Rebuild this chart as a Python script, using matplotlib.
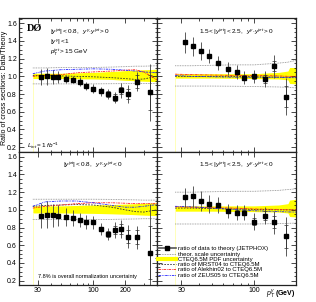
import numpy as np
import matplotlib
matplotlib.use('Agg')
import matplotlib.pyplot as plt
from matplotlib.lines import Line2D
from matplotlib.ticker import FixedLocator, NullFormatter, MultipleLocator

plt.rcParams['font.family'] = ['Liberation Sans', 'DejaVu Sans']
plt.rcParams['mathtext.fontset'] = 'custom'
plt.rcParams['mathtext.rm'] = 'Liberation Sans'
plt.rcParams['mathtext.it'] = 'Liberation Sans:italic'

# pT bin centres (GeV)
pt_central = [32, 36.5, 41.5, 47, 55, 65, 75, 85, 99, 119, 139, 159, 184, 214, 260, 340]
pt_forward = [32, 36.5, 41.5, 47, 55, 65, 75, 85, 99, 119, 139, 170]

# data / theory ratios and errors (total, stat)
tl_ratio = [0.99, 1.0, 0.99, 0.99, 0.97, 0.96, 0.94, 0.89, 0.86, 0.83, 0.80, 0.76, 0.84, 0.80, 0.94, 0.82]
tl_err = [0.09, 0.10, 0.08, 0.07, 0.05, 0.04, 0.05, 0.05, 0.05, 0.05, 0.06, 0.06, 0.08, 0.10, 0.11, 0.32]
tl_stat = [0.005, 0.005, 0.005, 0.006, 0.006, 0.008, 0.01, 0.012, 0.015, 0.02, 0.03, 0.035, 0.045, 0.06, 0.07, 0.2]

tr_ratio = [1.385, 1.34, 1.29, 1.23, 1.155, 1.085, 1.05, 0.985, 1.0, 0.965, 1.115, 0.77]
tr_err = [0.12, 0.11, 0.10, 0.08, 0.08, 0.075, 0.075, 0.07, 0.075, 0.09, 0.13, 0.21]
tr_stat = [0.01, 0.01, 0.01, 0.012, 0.012, 0.015, 0.02, 0.025, 0.03, 0.045, 0.06, 0.12]

bl_ratio = [0.936, 0.947, 0.94, 0.936, 0.92, 0.91, 0.887, 0.864, 0.86, 0.785, 0.728, 0.777, 0.785, 0.698, 0.69, 0.517]
bl_err = [0.14, 0.15, 0.13, 0.12, 0.10, 0.09, 0.08, 0.08, 0.075, 0.07, 0.07, 0.09, 0.10, 0.13, 0.13, 0.55]
bl_stat = [0.005, 0.005, 0.006, 0.006, 0.008, 0.01, 0.012, 0.015, 0.018, 0.025, 0.035, 0.045, 0.055, 0.07, 0.08, 0.3]

br_ratio = [1.14, 1.155, 1.10, 1.067, 1.05, 0.99, 0.97, 0.968, 0.868, 0.935, 0.862, 0.70]
br_err = [0.11, 0.12, 0.11, 0.10, 0.09, 0.08, 0.085, 0.085, 0.095, 0.10, 0.13, 0.22]
br_stat = [0.01, 0.01, 0.012, 0.012, 0.015, 0.02, 0.025, 0.03, 0.035, 0.05, 0.07, 0.13]

# theory curves: nodes in pT
th_pt_c = [27, 35, 50, 70, 100, 150, 200, 250, 300, 400]
th_pt_f = [27, 35, 50, 70, 100, 150, 175, 180, 200]

tl_pdf_lo = [0.975, 0.975, 0.975, 0.972, 0.97, 0.965, 0.955, 0.95, 0.945, 0.94]
tl_pdf_hi = [1.035, 1.035, 1.035, 1.04, 1.045, 1.055, 1.065, 1.07, 1.075, 1.08]
tl_mrst = [1.01, 1.01, 1.005, 1.0, 0.995, 0.985, 0.975, 0.965, 0.97, 1.0]
tl_alek = [1.0, 1.01, 1.02, 1.04, 1.05, 1.06, 1.07, 1.075, 1.05, 0.96]
tl_zeus = [1.03, 1.06, 1.075, 1.08, 1.085, 1.08, 1.07, 1.06, 1.05, 1.04]
tl_scale_hi = [1.095, 1.095, 1.1, 1.1, 1.1, 1.105, 1.11, 1.115, 1.115, 1.12]
tl_scale_lo = [0.915, 0.915, 0.915, 0.915, 0.915, 0.917, 0.918, 0.919, 0.92, 0.92]

tr_pdf_lo = [0.98, 0.98, 0.98, 0.978, 0.975, 0.97, 0.96, 0.92, 0.915]
tr_pdf_hi = [1.03, 1.03, 1.03, 1.03, 1.03, 1.045, 1.06, 1.10, 1.10]
tr_mrst = [1.0, 1.0, 1.0, 1.0, 0.995, 0.99, 0.99, 0.99, 0.99]
tr_alek = [1.025, 1.02, 1.015, 1.01, 1.01, 1.005, 1.0, 1.0, 1.0]
tr_zeus = [1.01, 1.0, 0.995, 0.99, 0.99, 0.99, 0.985, 0.985, 0.985]
tr_scale_hi = [1.12, 1.12, 1.125, 1.13, 1.13, 1.15, 1.16, 1.165, 1.18]
tr_scale_lo = [0.89, 0.89, 0.89, 0.888, 0.885, 0.88, 0.875, 0.875, 0.87]

bl_pdf_lo = [0.965, 0.965, 0.965, 0.962, 0.96, 0.955, 0.95, 0.945, 0.94, 0.935]
bl_pdf_hi = [1.045, 1.045, 1.045, 1.05, 1.055, 1.06, 1.065, 1.07, 1.075, 1.08]
bl_mrst = [1.04, 1.05, 1.055, 1.06, 1.055, 1.03, 1.0, 0.98, 0.975, 1.0]
bl_alek = [1.02, 1.04, 1.055, 1.07, 1.08, 1.08, 1.075, 1.07, 1.07, 1.07]
bl_zeus = [1.04, 1.09, 1.1, 1.1, 1.08, 1.05, 1.03, 1.03, 1.04, 1.06]
bl_scale_hi = [1.12, 1.12, 1.12, 1.12, 1.12, 1.118, 1.115, 1.113, 1.11, 1.11]
bl_scale_lo = [0.89, 0.89, 0.89, 0.89, 0.89, 0.892, 0.895, 0.897, 0.9, 0.9]

br_pdf_lo = [0.985, 0.985, 0.985, 0.982, 0.98, 0.975, 0.965, 0.925, 0.92]
br_pdf_hi = [1.045, 1.045, 1.045, 1.045, 1.045, 1.055, 1.07, 1.11, 1.12]
br_mrst = [1.02, 1.02, 1.015, 1.01, 1.005, 1.0, 1.0, 1.0, 1.0]
br_alek = [1.035, 1.03, 1.025, 1.02, 1.01, 1.005, 1.0, 1.0, 1.0]
br_zeus = [1.04, 1.035, 1.02, 1.005, 0.99, 0.98, 0.977, 0.976, 0.975]
br_scale_hi = [1.2, 1.2, 1.205, 1.21, 1.21, 1.22, 1.23, 1.23, 1.24]
br_scale_lo = [0.84, 0.84, 0.84, 0.84, 0.84, 0.845, 0.847, 0.848, 0.85]

labels = ['ratio of data to theory (JETPHOX)', 'theor. scale uncertainty',
          'CTEQ6.5M PDF uncertainty', 'ratio of MRST04 to CTEQ6.5M',
          'ratio of Alekhin02 to CTEQ6.5M', 'ratio of ZEUS05 to CTEQ6.5M']

W, H = 316, 302
fig = plt.figure(figsize=(W / 100, H / 100), dpi=100)
xl, xr, wl, wr = 19 / W, 157 / W, 138 / W, 139 / W
yb, yt, hh = 1 - 285 / H, 1 - 151.5 / H, 133.5 / H
ax_tl = fig.add_axes([xl, yt, wl, hh])
ax_tr = fig.add_axes([xr, yt, wr, hh])
ax_bl = fig.add_axes([xl, yb, wl, hh])
ax_br = fig.add_axes([xr, yb, wr, hh])

YLIM = (0.15, 1.66)


def draw(ax, pt, ratio, err, stat, tpt, plo, phi, mrst, alek, zeus, shi, slo, xmax, xticks):
    ax.set_xscale('log')
    ax.set_xlim(20, xmax)
    ax.set_ylim(*YLIM)
    ax.fill_between(tpt, plo, phi, color='#ffff00', lw=0, zorder=1)
    ax.vlines(tpt[0], YLIM[0], plo[0], color='#ffffa0', lw=0.5, zorder=1)
    ax.plot(tpt, shi, color='#888888', ls=(0, (1, 1)), lw=0.6, zorder=2)
    ax.plot(tpt, slo, color='#888888', ls=(0, (1, 1)), lw=0.6, zorder=2)
    ax.plot(tpt, mrst, color='#333333', ls=(0, (2, 1.5)), lw=0.6, zorder=3)
    ax.plot(tpt, alek, color='#ff2020', ls=(0, (3, 1, 1, 1)), lw=0.6, zorder=3)
    ax.plot(tpt, zeus, color='#2020ff', ls=(0, (3, 1, 1, 1, 1, 1)), lw=0.6, zorder=3)
    ax.errorbar(pt, ratio, yerr=err, fmt='none', ecolor='#404040', elinewidth=0.6, zorder=4)
    ax.errorbar(pt, ratio, yerr=stat, fmt='s', color='black', ms=2.2, ecolor='#303030',
                elinewidth=0.6, capsize=1.2, capthick=0.5, zorder=5)
    ax.yaxis.set_major_locator(MultipleLocator(0.2))
    ax.yaxis.set_minor_locator(MultipleLocator(0.05))
    ax.xaxis.set_major_locator(FixedLocator(xticks))
    ax.xaxis.set_major_formatter(matplotlib.ticker.FixedFormatter([str(t) for t in xticks]))
    minors = [v for v in list(range(20, 100, 10)) + list(range(100, 1000, 100)) if v <= xmax and v not in xticks]
    ax.xaxis.set_minor_locator(FixedLocator(minors))
    ax.xaxis.set_minor_formatter(NullFormatter())
    ax.tick_params(which='both', direction='in', top=True, right=True, labelsize=5, pad=1.5, width=0.5)
    ax.tick_params(which='major', length=3.5)
    ax.tick_params(which='minor', length=1.8)
    for s in ax.spines.values():
        s.set_linewidth(0.9)
        s.set_color('#222222')


draw(ax_tl, pt_central, tl_ratio, tl_err, tl_stat, th_pt_c, tl_pdf_lo, tl_pdf_hi,
     tl_mrst, tl_alek, tl_zeus, tl_scale_hi, tl_scale_lo, 400, [30, 100, 200])
draw(ax_tr, pt_forward, tr_ratio, tr_err, tr_stat, th_pt_f, tr_pdf_lo, tr_pdf_hi,
     tr_mrst, tr_alek, tr_zeus, tr_scale_hi, tr_scale_lo, 200, [30, 100])
draw(ax_bl, pt_central, bl_ratio, bl_err, bl_stat, th_pt_c, bl_pdf_lo, bl_pdf_hi,
     bl_mrst, bl_alek, bl_zeus, bl_scale_hi, bl_scale_lo, 400, [30, 100, 200])
draw(ax_br, pt_forward, br_ratio, br_err, br_stat, th_pt_f, br_pdf_lo, br_pdf_hi,
     br_mrst, br_alek, br_zeus, br_scale_hi, br_scale_lo, 200, [30, 100])

for ax in (ax_tl, ax_tr):
    ax.tick_params(labelbottom=False)
for ax in (ax_tr, ax_br):
    ax.tick_params(labelleft=False)

# texts
ax_tl.text(0.055, 0.955, 'DØ', transform=ax_tl.transAxes, fontsize=7.5, fontweight='bold',
           family='Liberation Serif', va='top')
ax_tl.text(0.225, 0.9, r'$|y^{jet}| < 0.8,\ \ y^{\gamma}\!\cdot\!y^{jet} > 0$', transform=ax_tl.transAxes, fontsize=4.6, va='center')
ax_tl.text(0.225, 0.82, r'$|y^{\gamma}| < 1$', transform=ax_tl.transAxes, fontsize=4.6, va='center')
ax_tl.text(0.225, 0.745, r'$p_T^{jet} > 15$ GeV', transform=ax_tl.transAxes, fontsize=4.6, va='center')
ax_tl.text(0.055, 0.04, r'$L_{int} = 1\ fb^{-1}$', transform=ax_tl.transAxes, fontsize=4.6, va='center')
ax_tr.text(0.3, 0.9, r'$1.5 < |y^{jet}| < 2.5,\ \ y^{\gamma}\!\cdot\!y^{jet} > 0$', transform=ax_tr.transAxes, fontsize=4.6, va='center')
ax_bl.text(0.32, 0.9, r'$|y^{jet}| < 0.8,\ \ y^{\gamma}\!\cdot\!y^{jet} < 0$', transform=ax_bl.transAxes, fontsize=4.6, va='center')
ax_br.text(0.3, 0.9, r'$1.5 < |y^{jet}| < 2.5,\ \ y^{\gamma}\!\cdot\!y^{jet} < 0$', transform=ax_br.transAxes, fontsize=4.6, va='center')
ax_bl.text(0.14, 0.065, '7.8% is overall normalization uncertainty', transform=ax_bl.transAxes, fontsize=4.0, va='center')

fig.text(0.014, 0.71, 'Ratio of cross sections: Data/Theory', rotation=90, fontsize=5,
         ha='center', va='center')
fig.text(0.935, 0.008, r'$p_T^{\gamma}$ (GeV)', fontsize=5, ha='right', va='bottom', fontweight='bold')

handles = [
    Line2D([], [], color='#555555', lw=1.2, marker='s', ms=2.2, mfc='black', mec='black'),
    Line2D([], [], color='#888888', ls=(0, (1, 1)), lw=0.6),
    Line2D([], [], color='#ffff00', lw=3),
    Line2D([], [], color='#333333', ls=(0, (2, 1.5)), lw=0.6),
    Line2D([], [], color='#ff2020', ls=(0, (3, 1, 1, 1)), lw=0.6),
    Line2D([], [], color='#2020ff', ls=(0, (3, 1, 1, 1, 1, 1)), lw=0.6),
]
ax_br.legend(handles, labels, loc='lower left', bbox_to_anchor=(0.0, 0.045), frameon=False,
             fontsize=4.3, handlelength=3.0, handletextpad=0.4, labelspacing=0.02,
             borderpad=0.1, borderaxespad=0.1)

fig.savefig('out.png', dpi=100)
